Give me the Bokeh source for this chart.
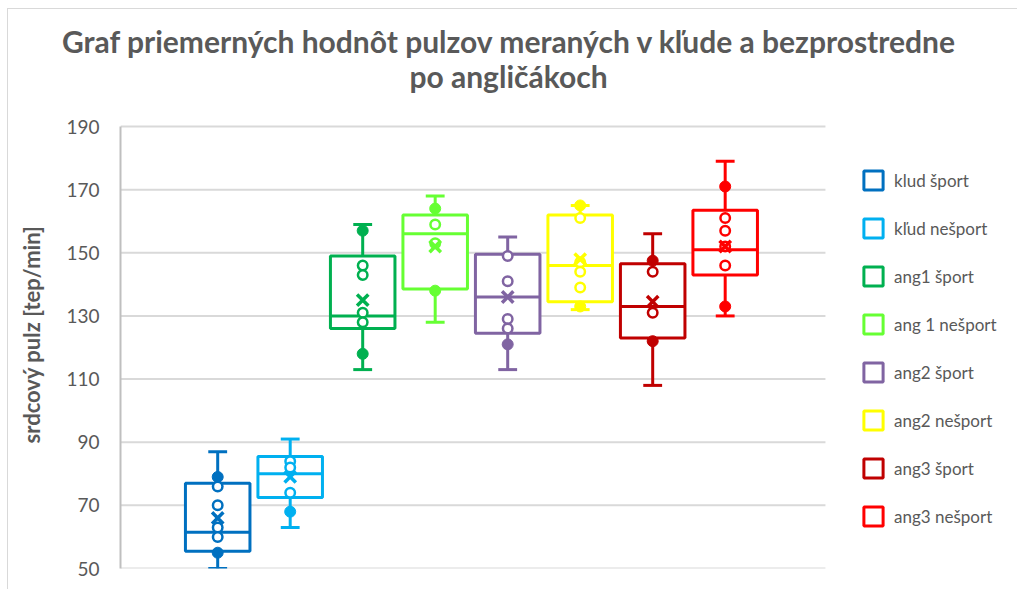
from bokeh.plotting import figure
from bokeh.layouts import column
from bokeh.models import ColumnDataSource, FixedTicker, Legend, LegendItem, Div
from bokeh.embed import file_html
from bokeh.resources import INLINE

# ---- data ----
categories = ["klud šport", "kľud nešport", "ang1 šport", "ang 1 nešport",
              "ang2 šport", "ang2 nešport", "ang3 šport", "ang3 nešport"]
colors = ["#0070C0", "#00B0F0", "#00B050", "#66FF33",
          "#8064A2", "#FFFF00", "#C00000", "#FF0000"]
lower_whisker = [50, 63, 113, 128, 113, 132, 108, 130]
q1 = [55.5, 72.5, 126, 138.5, 124.5, 134.5, 123, 143]
median = [61.5, 80, 130, 156, 136, 146, 133, 151]
q3 = [77, 85.5, 149, 162, 149.5, 162, 146.5, 163.5]
upper_whisker = [87, 91, 159, 168, 155, 165, 156, 179]
mean = [66, 79, 135, 152, 136, 148, 134.5, 152]
points = [
    [79, 76, 70, 63, 60, 55],
    [84, 82, 74, 68],
    [157, 146, 143, 131, 128, 118],
    [164, 159, 153, 138],
    [149, 141, 129, 126, 121],
    [165, 161, 147, 144, 139, 133],
    [147.5, 144, 131, 122],
    [171, 161, 157, 152, 146, 133],
]
y_ticks = [50, 70, 90, 110, 130, 150, 170, 190]
title_lines = ["Graf priemerných hodnôt pulzov meraných v kľude a bezprostredne",
               "po angličákoch"]
y_label = "srdcový pulz [tep/min]"

FONT = "Lato"
TXT = "#595959"

xs = list(range(len(categories)))
BW = 0.89
CAP = 0.13
Y_MIN, Y_MAX = y_ticks[0], y_ticks[-1]
PLOT_X0, PLOT_X1 = -1.3407, 8.383      # extent of the plotting area (data units)

title = Div(
    text=('<div style="width:1000px; padding:24px 0 0 17px; text-align:center; '
          'font-family:Lato; font-weight:bold; font-size:30px; line-height:35px; '
          'color:%s; white-space:nowrap">%s<br>%s</div>') % (TXT, title_lines[0], title_lines[1]),
    width=1017, height=100, margin=0)

p = figure(width=1017, height=489, output_backend="svg", toolbar_location=None,
           x_range=(PLOT_X0, 11.032), y_range=(Y_MIN, 198.24),
           min_border_left=120, min_border_right=0, min_border_top=0,
           min_border_bottom=21, margin=0)
p.border_fill_color = None
p.background_fill_color = None
p.outline_line_color = None
p.xaxis.visible = False
p.xgrid.visible = False
p.ygrid.visible = False
p.yaxis.ticker = FixedTicker(ticks=y_ticks)
p.yaxis.bounds = (Y_MIN, Y_MAX)
p.yaxis.axis_line_color = "#BFBFBF"
p.yaxis.axis_line_width = 2
p.yaxis.major_tick_line_color = None
p.yaxis.minor_tick_line_color = None
p.yaxis.major_label_text_font = FONT
p.yaxis.major_label_text_font_size = "19px"
p.yaxis.major_label_text_color = TXT
p.yaxis.major_label_standoff = 15
p.yaxis.axis_label = y_label
p.yaxis.axis_label_text_font = FONT
p.yaxis.axis_label_text_font_style = "bold"
p.yaxis.axis_label_text_font_size = "22px"
p.yaxis.axis_label_text_color = TXT
p.yaxis.axis_label_standoff = 18

# horizontal gridlines over the plotting area only
p.segment(x0=[PLOT_X0] * len(y_ticks), y0=y_ticks, x1=[PLOT_X1] * len(y_ticks), y1=y_ticks,
          line_color="#D9D9D9", line_width=2)

src = ColumnDataSource(dict(x=xs, q1=q1, q3=q3, med=median, lo=lower_whisker,
                            hi=upper_whisker, mean=mean, color=colors,
                            left=[x - BW / 2 for x in xs], right=[x + BW / 2 for x in xs],
                            cl=[x - CAP for x in xs], cr=[x + CAP for x in xs],
                            label=categories))

p.segment(x0="x", y0="q3", x1="x", y1="hi", line_color="color", line_width=3, source=src)
p.segment(x0="x", y0="q1", x1="x", y1="lo", line_color="color", line_width=3, source=src)
p.segment(x0="cl", y0="hi", x1="cr", y1="hi", line_color="color", line_width=3, source=src)
p.segment(x0="cl", y0="lo", x1="cr", y1="lo", line_color="color", line_width=3, source=src)
box = p.vbar(x="x", width=BW, top="q3", bottom="q1", fill_color="white",
             line_color="color", line_width=3, source=src)
p.segment(x0="left", y0="med", x1="right", y1="med", line_color="color", line_width=3, source=src)

hx, hy, hc, fx, fy, fc = [], [], [], [], [], []
for i, pts in enumerate(points):
    for v in pts:
        if q1[i] <= v <= q3[i]:
            hx.append(i); hy.append(v); hc.append(colors[i])
        else:
            fx.append(i); fy.append(v); fc.append(colors[i])
p.scatter(hx, hy, marker="circle", size=9.5, fill_color="white", line_color=hc, line_width=2.5)
p.scatter(fx, fy, marker="circle", size=11, fill_color=fc, line_color=fc, line_width=1)
p.scatter(x="x", y="mean", marker="x", size=16, line_color="color", line_width=3.5, source=src)

items = [LegendItem(label=c, renderers=[box], index=i) for i, c in enumerate(categories)]
legend = Legend(items=items, location=(735, 34), glyph_width=24, glyph_height=24,
                label_height=24, spacing=24, padding=6, margin=0, label_standoff=9,
                label_text_font=FONT, label_text_font_size="17px", label_text_color=TXT,
                border_line_alpha=0, background_fill_alpha=0)
p.add_layout(legend, "center")

layout = column(title, p, spacing=0, margin=0)
layout.styles = {
    "background": "linear-gradient(#D9D9D9, #D9D9D9) 7px 8px / 1px 100% no-repeat, "
                  "linear-gradient(#D9D9D9, #D9D9D9) 7px 8px / 100% 1px no-repeat, white"
}

open("out.html", "w").write(file_html(layout, INLINE))
